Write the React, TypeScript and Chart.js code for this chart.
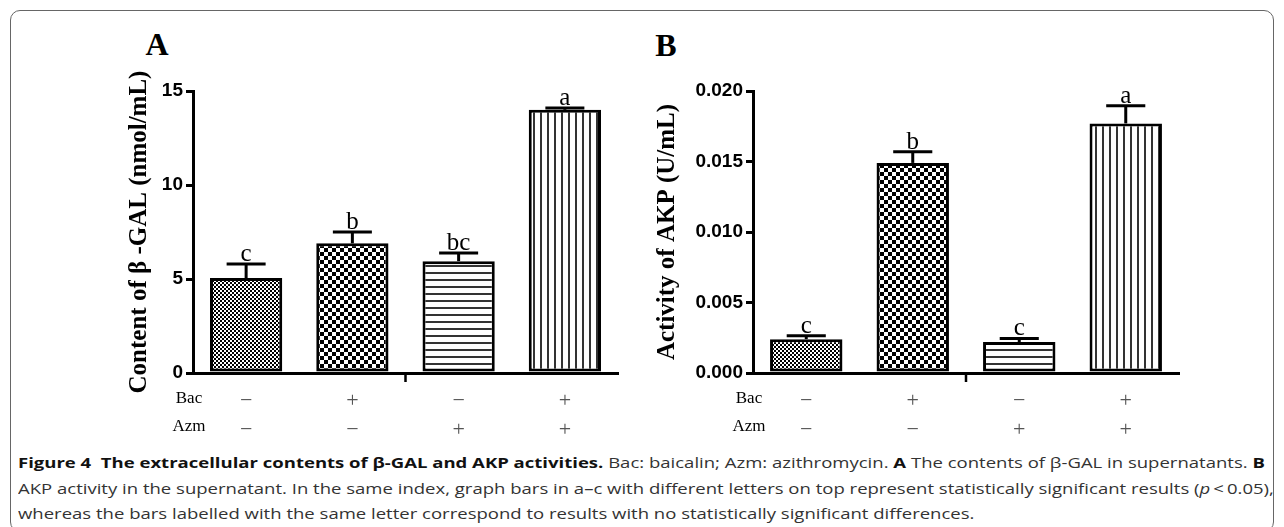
import React, { useEffect, useLayoutEffect, useRef } from 'react';
import { Chart, registerables } from 'chart.js';

Chart.register(...registerables);

// ---- data ----
const categories = [
  ['\u2212', '\u2212'],
  ['+', '\u2212'],
  ['\u2212', '+'],
  ['+', '+'],
];
const rowLabels = ['Bac', 'Azm'];

const galValues = [5.05, 6.9, 5.95, 14.0];
const galErrors = [0.75, 0.6, 0.43, 0.1];
const galLetters = ['c', 'b', 'bc', 'a'];
const galMax = 15;
const galStep = 5;
const galTitle = 'Content of \u03b2 -GAL (nmol/mL)';

const akpValues = [0.0024, 0.0149, 0.0022, 0.0177];
const akpErrors = [0.00025, 0.0008, 0.00025, 0.00125];
const akpLetters = ['c', 'b', 'c', 'a'];
const akpMax = 0.02;
const akpStep = 0.005;
const akpTitle = 'Activity of AKP (U/mL)';

const patternKinds = ['fine', 'check', 'hlines', 'vlines'];

function makePattern(kind: string, ctx: CanvasRenderingContext2D) {
  const c = document.createElement('canvas');
  const g = c.getContext('2d')!;
  if (kind === 'fine') {
    c.width = 4; c.height = 4;
    g.fillStyle = '#fff'; g.fillRect(0, 0, 4, 4);
    g.fillStyle = '#000'; g.fillRect(0, 0, 2, 2); g.fillRect(2, 2, 2, 2);
  } else if (kind === 'check') {
    c.width = 8; c.height = 8;
    g.fillStyle = '#fff'; g.fillRect(0, 0, 8, 8);
    g.fillStyle = '#000'; g.fillRect(0, 0, 4, 4); g.fillRect(4, 4, 4, 4);
  } else if (kind === 'hlines') {
    c.width = 4; c.height = 7;
    g.fillStyle = '#fff'; g.fillRect(0, 0, 4, 7);
    g.fillStyle = '#333'; g.fillRect(0, 0, 4, 2);
  } else {
    c.width = 7; c.height = 4;
    g.fillStyle = '#fff'; g.fillRect(0, 0, 7, 4);
    g.fillStyle = '#333'; g.fillRect(0, 0, 2, 4);
  }
  return ctx.createPattern(c, 'repeat');
}

function makePlugin(errors: number[], letters: string[]) {
  return {
    id: 'errorsAndLetters',
    afterDatasetsDraw(chart: any) {
      const { ctx } = chart;
      const meta = chart.getDatasetMeta(0);
      const y = chart.scales.y;
      const vals = chart.data.datasets[0].data as number[];
      ctx.save();
      meta.data.forEach((bar: any, i: number) => {
        const yTop = y.getPixelForValue(vals[i] + errors[i]);
        const half = bar.width * 0.27;
        ctx.strokeStyle = '#000';
        ctx.lineWidth = 3;
        ctx.beginPath();
        ctx.moveTo(bar.x, bar.y);
        ctx.lineTo(bar.x, yTop);
        ctx.stroke();
        ctx.beginPath();
        ctx.moveTo(bar.x - half, yTop);
        ctx.lineTo(bar.x + half, yTop);
        ctx.stroke();
        ctx.fillStyle = '#000';
        ctx.font = '25px "Liberation Serif"';
        ctx.textAlign = 'center';
        ctx.textBaseline = 'alphabetic';
        ctx.fillText(letters[i], bar.x, yTop - 3);
      });
      ctx.restore();
    },
    afterDraw(chart: any) {
      const { ctx, chartArea } = chart;
      ctx.save();
      // small centre tick below the x axis
      const cx = (chartArea.left + chartArea.right) / 2;
      ctx.strokeStyle = '#000';
      ctx.lineWidth = 2.5;
      ctx.beginPath();
      ctx.moveTo(cx, chartArea.bottom);
      ctx.lineTo(cx, chartArea.bottom + 9);
      ctx.stroke();
      // row labels
      ctx.fillStyle = '#000';
      ctx.font = '17px "Liberation Serif"';
      ctx.textAlign = 'center';
      ctx.textBaseline = 'middle';
      const offs = [26, 54];
      rowLabels.forEach((t, i) => {
        ctx.fillText(t, chartArea.left - 4, chartArea.bottom + offs[i]);
      });
      ctx.restore();
    },
  };
}

type PanelProps = {
  left: number;
  width: number;
  yWidth: number;
  padRight: number;
  title: string;
  titlePad: number;
  values: number[];
  errors: number[];
  letters: string[];
  max: number;
  step: number;
  decimals: number;
};

function Panel(p: PanelProps) {
  const ref = useRef<HTMLCanvasElement>(null);
  useEffect(() => {
    const ctx = ref.current!.getContext('2d')!;
    const pats = patternKinds.map((k) => makePattern(k, ctx));
    const chart = new Chart(ctx, {
      type: 'bar',
      data: {
        labels: categories as any,
        datasets: [
          {
            data: p.values,
            backgroundColor: pats as any,
            borderColor: '#000',
            borderWidth: 3,
            borderSkipped: false,
            barPercentage: 0.68,
            categoryPercentage: 1,
          },
        ],
      },
      options: {
        animation: false,
        responsive: false,
        maintainAspectRatio: false,
        events: [],
        layout: { padding: { left: 0, top: 71, right: p.padRight, bottom: 0 } },
        plugins: { legend: { display: false }, tooltip: { enabled: false } },
        scales: {
          x: {
            grid: { display: false },
            border: { display: true, width: 3, color: '#000' },
            ticks: {
              color: '#555',
              font: { family: 'Liberation Serif', size: 22, lineHeight: 1.3 },
              padding: 6,
              autoSkip: false,
              maxRotation: 0,
              minRotation: 0,
            },
            afterFit: (s: any) => {
              s.height = 67;
            },
          },
          y: {
            min: 0,
            max: p.max,
            grid: {
              display: true,
              drawOnChartArea: false,
              drawTicks: true,
              tickLength: 7,
              lineWidth: 3,
              color: '#000',
            },
            border: { display: true, width: 3, color: '#000' },
            ticks: {
              stepSize: p.step,
              color: '#000',
              padding: 3,
              font: { family: 'Liberation Sans', size: 19, weight: 'bold' },
              callback: (v: any) => Number(v).toFixed(p.decimals),
            },
            title: {
              display: true,
              text: p.title,
              color: '#000',
              font: { family: 'Liberation Serif', size: 25, weight: 'bold' },
              padding: { top: p.titlePad, bottom: 0 },
            },
            afterFit: (s: any) => {
              s.width = p.yWidth;
            },
          },
        },
      } as any,
      plugins: [makePlugin(p.errors, p.letters)],
    });
    return () => chart.destroy();
  }, []);
  return (
    <canvas
      ref={ref}
      width={p.width}
      height={420}
      style={{ position: 'absolute', left: p.left, top: 20, width: p.width, height: 420 }}
    />
  );
}

const captionLines = [
  [
    { t: 'Figure 4  The extracellular contents of \u03b2-GAL and AKP activities.', b: true },
    { t: ' Bac: baicalin; Azm: azithromycin. ' },
    { t: 'A', b: true },
    { t: ' The contents of \u03b2-GAL in supernatants. ' },
    { t: 'B', b: true },
  ],
  [
    { t: 'AKP activity in the supernatant. In the same index, graph bars in a\u2013c with different letters on top represent statistically significant results (' },
    { t: 'p', i: true },
    { t: '\u2009<\u20090.05),' },
  ],
  [
    { t: 'whereas the bars labelled with the same letter correspond to results with no statistically significant differences.' },
  ],
];
const captionTops = [453, 479, 504];

function Caption() {
  const r0 = useRef<HTMLDivElement>(null);
  const r1 = useRef<HTMLDivElement>(null);
  const r2 = useRef<HTMLDivElement>(null);
  const refs = [r0, r1, r2];
  useLayoutEffect(() => {
    const fit = () => {
      const w = r0.current!.offsetWidth;
      const k = 1247 / w;
      refs.forEach((r) => {
        r.current!.style.transform = `scaleX(${k})`;
      });
    };
    fit();
    (document as any).fonts?.ready?.then(fit);
  }, []);
  return (
    <>
      {captionLines.map((line, li) => (
        <div
          key={li}
          ref={refs[li]}
          style={{
            position: 'absolute',
            left: 18,
            top: captionTops[li],
            whiteSpace: 'pre',
            fontFamily: '"Open Sans", sans-serif',
            fontSize: 15,
            lineHeight: '18px',
            color: '#222',
            transformOrigin: 'left center',
          }}
        >
          {line.map((s: any, si) => (
            <span
              key={si}
              style={{ fontWeight: s.b ? 700 : 400, fontStyle: s.i ? 'italic' : 'normal', color: s.b ? '#111' : '#333' }}
            >
              {s.t}
            </span>
          ))}
        </div>
      ))}
    </>
  );
}

function PanelLetter({ text, x, y }: { text: string; x: number; y: number }) {
  return (
    <div
      style={{
        position: 'absolute',
        left: x,
        top: y,
        transform: 'translate(-50%, -50%)',
        fontFamily: '"Liberation Serif", serif',
        fontWeight: 700,
        fontSize: 32,
        lineHeight: 1,
        color: '#000',
      }}
    >
      {text}
    </div>
  );
}

export default function App() {
  return (
    <div
      style={{
        position: 'fixed',
        left: 0,
        top: 0,
        width: 1284,
        height: 527,
        background: '#fff',
        overflow: 'hidden',
      }}
    >
      <div
        style={{
          position: 'absolute',
          left: 10,
          top: 10,
          width: 1264,
          height: 522,
          border: '1px solid #666',
          borderRadius: 10,
          boxSizing: 'border-box',
        }}
      />
      <PanelLetter text="A" x={157} y={44} />
      <PanelLetter text="B" x={666} y={45} />
      <Panel
        left={120}
        width={510}
        yWidth={73}
        padRight={12}
        title={galTitle}
        titlePad={5}
        values={galValues}
        errors={galErrors}
        letters={galLetters}
        max={galMax}
        step={galStep}
        decimals={0}
      />
      <Panel
        left={640}
        width={560}
        yWidth={113}
        padRight={21}
        title={akpTitle}
        titlePad={13}
        values={akpValues}
        errors={akpErrors}
        letters={akpLetters}
        max={akpMax}
        step={akpStep}
        decimals={3}
      />
      <Caption />
    </div>
  );
}
